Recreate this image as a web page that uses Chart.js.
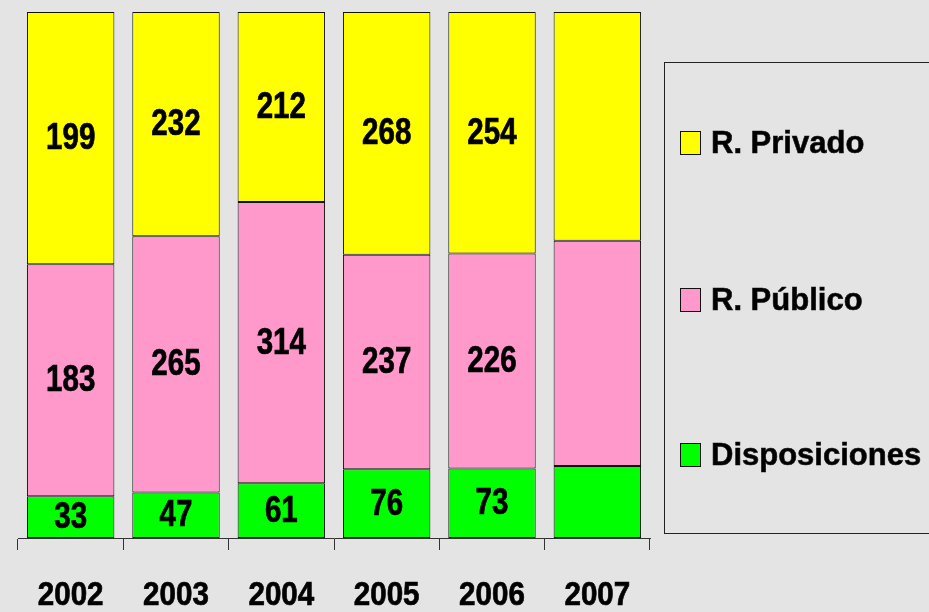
<!DOCTYPE html>
<html>
<head>
<meta charset="utf-8">
<script src="https://cdn.jsdelivr.net/npm/chart.js@4"></script>
<style>
  html, body { margin: 0; padding: 0; background: #e4e4e4; }
  #wrap { width: 929px; height: 612px; position: relative; }
</style>
</head>
<body>
<div id="wrap"><canvas id="chart" width="929" height="612"></canvas></div>
<script>
// Values read off the picture; 2007 has no printed numbers, so its split is estimated from bar heights.
const years = ["2002", "2003", "2004", "2005", "2006", "2007"];
const disposiciones = [33, 47, 61, 76, 73, 75];
const publico = [183, 265, 314, 237, 226, 234];
const privado = [199, 232, 212, 268, 254, 238];
const showLabel = [true, true, true, true, true, false];

const totals = years.map((_, i) => disposiciones[i] + publico[i] + privado[i]);
const toShare = (arr) => arr.map((v, i) => (v / totals[i]) * 100);

const baseFont = "'Liberation Sans', Arial, sans-serif";

const seriesInfo = [
  { label: "Disposiciones", raw: disposiciones, color: "#00ff00" },
  { label: "R. Público", raw: publico, color: "#ff99cc" },
  { label: "R. Privado", raw: privado, color: "#ffff00" },
];

// the original uses a condensed face; squeeze the regular one and thicken it a bit
function squeezedText(ctx, text, x, y, squeeze) {
  ctx.save();
  ctx.translate(x, y);
  ctx.scale(squeeze, 1);
  ctx.fillText(text, 0, 0);
  ctx.strokeText(text, 0, 0);
  ctx.restore();
}

// Numbers centred inside every segment, plus the year labels under the axis
const segmentLabels = {
  id: "segmentLabels",
  afterDatasetsDraw(chart) {
    const ctx = chart.ctx;
    ctx.save();
    ctx.font = "bold 36px " + baseFont;
    ctx.fillStyle = "#000";
    ctx.strokeStyle = "#000";
    ctx.lineWidth = 0.7;
    ctx.textAlign = "center";
    ctx.textBaseline = "middle";
    chart.data.datasets.forEach((ds, di) => {
      const meta = chart.getDatasetMeta(di);
      meta.data.forEach((bar, i) => {
        if (!showLabel[i]) return;
        const mid = (bar.y + bar.base) / 2;
        squeezedText(ctx, String(seriesInfo[di].raw[i]), bar.x, mid + 1, 0.82);
      });
    });

    const xScale = chart.scales.x;
    ctx.font = "bold 34px " + baseFont;
    years.forEach((yr, i) => {
      squeezedText(ctx, yr, xScale.getPixelForTick(i), 596, 0.87);
    });
    ctx.restore();
  },
};

// Boxed legend on the right, top item is the top segment
const boxLegend = {
  id: "boxLegend",
  afterDraw(chart) {
    const ctx = chart.ctx;
    ctx.save();
    ctx.strokeStyle = "#222";
    ctx.lineWidth = 1;
    ctx.strokeRect(664.5, 62.5, 320, 471);
    const rows = [
      { info: seriesInfo[2], y: 143 },
      { info: seriesInfo[1], y: 300 },
      { info: seriesInfo[0], y: 455 },
    ];
    ctx.font = "bold 31px " + baseFont;
    ctx.textBaseline = "middle";
    ctx.textAlign = "left";
    rows.forEach((row) => {
      ctx.fillStyle = row.info.color;
      ctx.fillRect(680.5, row.y - 11.5, 20, 23);
      ctx.strokeStyle = "#111";
      ctx.lineWidth = 1;
      ctx.strokeRect(680.5, row.y - 11.5, 20, 23);
      ctx.fillStyle = "#000";
      ctx.lineWidth = 0.6;
      ctx.fillText(row.info.label, 711, row.y + 1);
      ctx.strokeText(row.info.label, 711, row.y + 1);
    });
    ctx.restore();
  },
};

new Chart(document.getElementById("chart"), {
  type: "bar",
  data: {
    labels: years,
    datasets: seriesInfo.map((s) => ({
      label: s.label,
      data: toShare(s.raw),
      backgroundColor: s.color,
      borderColor: "#111",
      borderWidth: 1,
      borderSkipped: false,
      barPercentage: 0.83,
      categoryPercentage: 1,
    })),
  },
  options: {
    responsive: false,
    animation: false,
    layout: { padding: { left: 18, right: 279, top: 12, bottom: 0 } },
    plugins: { legend: { display: false }, tooltip: { enabled: false } },
    scales: {
      x: {
        stacked: true,
        offset: true,
        afterFit(scale) { scale.height = 74; },
        grid: {
          offset: true,
          drawOnChartArea: false,
          drawTicks: true,
          tickLength: 12,
          color: "#333",
        },
        border: { display: true, color: "#333", width: 1 },
        ticks: { display: false },
      },
      y: {
        stacked: true,
        display: false,
        min: 0,
        max: 100,
      },
    },
  },
  plugins: [segmentLabels, boxLegend],
});
</script>
</body>
</html>
